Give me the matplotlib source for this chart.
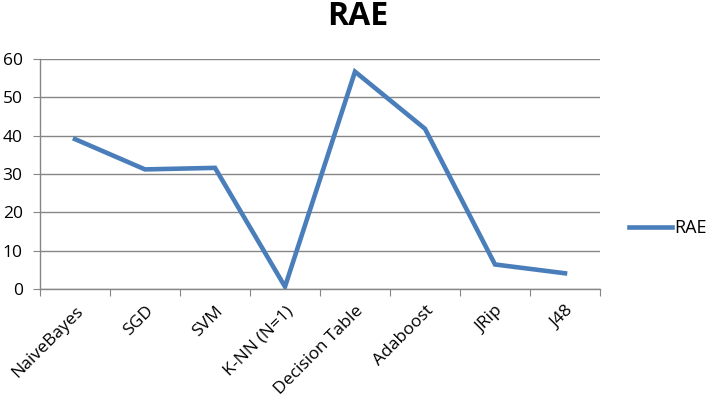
import matplotlib
matplotlib.use("Agg")
import matplotlib.pyplot as plt
import numpy as np

categories = ["NaiveBayes", "SGD", "SVM", "K-NN (N=1)", "Decision Table", "Adaboost", "JRip", "J48"]
rae = [39.1, 31.2, 31.6, 0.6, 56.7, 41.8, 6.4, 4.1]
yticks = [0, 10, 20, 30, 40, 50, 60]

plt.rcParams['font.family'] = ['Open Sans', 'DejaVu Sans']

fig = plt.figure(figsize=(7.09, 4.01), dpi=100)
ax = fig.add_axes([40/709, 1-289/401, 560/709, 230/401])

x = np.arange(len(categories))
line, = ax.plot(x, rae, color='#4a7ebb', lw=3.3, solid_joinstyle='miter', label='RAE')

ax.set_xlim(-0.5, len(categories) - 0.5)
ax.set_ylim(0, 60)
ax.set_yticks(yticks)
ax.set_yticklabels([str(v) for v in yticks], fontsize=12.5)
ax.yaxis.grid(True, color='#868686', lw=1)
ax.set_axisbelow(True)

ax.set_xticks(np.arange(len(categories) + 1) - 0.5)
ax.set_xticklabels([])
ax.set_xticks(x, minor=True)
ax.set_xticklabels(categories, minor=True, rotation=45, ha='right',
                   rotation_mode='anchor', fontsize=12.6)
ax.tick_params(axis='x', which='minor', length=0, pad=10)
ax.tick_params(axis='x', which='major', length=5, color='#868686', direction='out')
ax.tick_params(axis='y', length=5, color='#868686', direction='out', pad=7.5)

for s in ['top', 'right']:
    ax.spines[s].set_visible(False)
for s in ['left', 'bottom']:
    ax.spines[s].set_color('#868686')
    ax.spines[s].set_linewidth(1)

fig.text(358/709, 1-25/401, "RAE", ha='center', va='baseline',
         fontsize=23, fontweight='bold')

fig.legend(handles=[line], loc='center left', bbox_to_anchor=(629/709, 1-228/401),
           frameon=False, fontsize=13, handlelength=2.4, handletextpad=0.1,
           borderaxespad=0, borderpad=0)

fig.savefig("out.png", dpi=100)
